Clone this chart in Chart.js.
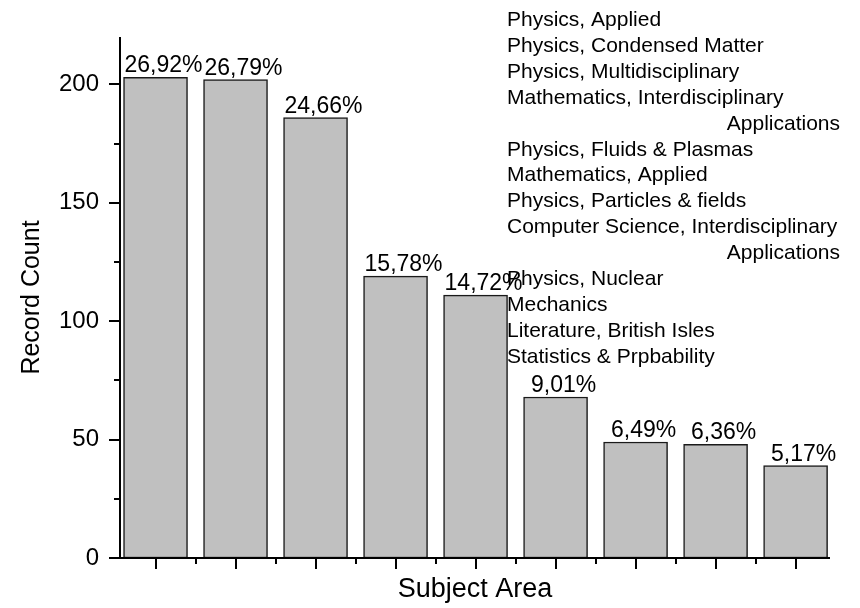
<!DOCTYPE html>
<html>
<head>
<meta charset="utf-8">
<script src="https://cdn.jsdelivr.net/npm/chart.js@4/dist/chart.umd.min.js"></script>
<style>
  html, body { margin: 0; padding: 0; background: #fff; }
  #wrap { width: 860px; height: 608px; }
</style>
</head>
<body>
<div id="wrap"><canvas id="chart" width="860" height="608"></canvas></div>
<script>
// データ（グラフの値）
const positions = [1, 2, 3, 4, 5, 6, 7, 8, 9];
const counts = [203, 202, 186, 119, 111, 68, 49, 48, 39];
const percents = [26.92, 26.79, 24.66, 15.78, 14.72, 9.01, 6.49, 6.36, 5.17];
const yTicks = [0, 50, 100, 150, 200];
const subjects = [
  'Physics, Applied',
  'Physics, Condensed Matter',
  'Physics, Multidisciplinary',
  'Mathematics, Interdisciplinary Applications',
  'Physics, Fluids & Plasmas',
  'Mathematics, Applied',
  'Physics, Particles & fields',
  'Computer Science, Interdisciplinary Applications',
  'Physics, Nuclear',
  'Mechanics',
  'Literature, British Isles',
  'Statistics & Prpbability'
];

const FONT = '"Liberation Sans", Arial, sans-serif';

// 軸線と目盛り（主・副）を描く
const axisPlugin = {
  id: 'axisTicks',
  afterDraw(chart) {
    const ctx = chart.ctx;
    const x = chart.scales.x, y = chart.scales.y;
    const area = chart.chartArea;
    ctx.save();
    ctx.strokeStyle = '#000';
    ctx.lineWidth = 2;
    ctx.beginPath();
    ctx.moveTo(area.left, area.top);
    ctx.lineTo(area.left, area.bottom);
    ctx.lineTo(area.right, area.bottom);
    ctx.stroke();

    ctx.beginPath();
    // y: 主目盛り50ごと、副目盛り25ごと
    for (let v = 0; v <= y.max; v += 25) {
      const py = Math.round(y.getPixelForValue(v));
      const len = v % 50 === 0 ? 11 : 6;
      ctx.moveTo(area.left, py);
      ctx.lineTo(area.left - len, py);
    }
    // x: 棒の中心に主目盛り、間に副目盛り
    positions.forEach(function(p, i) {
      const px = Math.round(x.getPixelForValue(p));
      ctx.moveTo(px, area.bottom);
      ctx.lineTo(px, area.bottom + 11);
      if (i < positions.length - 1) {
        const mx = Math.round(x.getPixelForValue(p + 0.5));
        ctx.moveTo(mx, area.bottom);
        ctx.lineTo(mx, area.bottom + 6);
      }
    });
    ctx.stroke();
    ctx.restore();
  }
};

// 棒の上にパーセント表示
const percentPlugin = {
  id: 'percentLabels',
  afterDatasetsDraw(chart) {
    const ctx = chart.ctx;
    const meta = chart.getDatasetMeta(0);
    ctx.save();
    ctx.font = '23px ' + FONT;
    ctx.fillStyle = '#000';
    ctx.textAlign = 'center';
    ctx.textBaseline = 'alphabetic';
    meta.data.forEach(function(bar, i) {
      const txt = percents[i].toFixed(2).replace('.', ',') + '%';
      ctx.fillText(txt, bar.x + 8, bar.y - 5);
    });
    ctx.restore();
  }
};

// 右上の分野リスト（長い行は折り返して右寄せ）
const subjectPlugin = {
  id: 'subjectList',
  afterDraw(chart) {
    const ctx = chart.ctx;
    const left = 507, right = 840, lineH = 25.9;
    let baseY = 26;
    ctx.save();
    ctx.font = '21px ' + FONT;
    ctx.fillStyle = '#000';
    ctx.textBaseline = 'alphabetic';
    subjects.forEach(function(s) {
      const words = s.split(' ');
      let line = '';
      let first = true;
      const lines = [];
      words.forEach(function(w) {
        const test = line ? line + ' ' + w : w;
        if (line && ctx.measureText(test).width > right - left) {
          lines.push(line);
          line = w;
        } else {
          line = test;
        }
      });
      lines.push(line);
      lines.forEach(function(l) {
        if (first) {
          ctx.textAlign = 'left';
          ctx.fillText(l, left, baseY);
          first = false;
        } else {
          ctx.textAlign = 'right';
          ctx.fillText(l, right, baseY);
        }
        baseY += lineH;
      });
    });
    ctx.restore();
  }
};

const ctx = document.getElementById('chart');
const chart = new Chart(ctx, {
  type: 'bar',
  data: {
    datasets: [{
      data: positions.map(function(p, i) { return { x: p, y: counts[i] }; }),
      backgroundColor: '#c0c0c0',
      borderColor: '#1a1a1a',
      borderWidth: 1.5,
      borderSkipped: false,
      barThickness: 64
    }]
  },
  options: {
    responsive: false,
    animation: false,
    devicePixelRatio: 1,
    layout: { padding: { top: 37, right: 30, left: 0, bottom: 0 } },
    plugins: {
      legend: { display: false },
      tooltip: { enabled: false }
    },
    scales: {
      x: {
        type: 'linear',
        offset: false,
        min: 0.556,
        max: 9.43,
        grid: { display: false, drawTicks: false, offset: false },
        border: { display: false },
        ticks: { display: false },
        title: {
          display: true,
          text: 'Subject Area',
          color: '#000',
          font: { family: FONT, size: 27 },
          padding: { top: 0, bottom: 2 }
        },
        afterFit: function(s) { s.height = 50; }
      },
      y: {
        min: 0,
        max: 220,
        grid: { display: false, drawTicks: false },
        border: { display: false },
        afterBuildTicks: function(s) {
          s.ticks = yTicks.map(function(v) { return { value: v }; });
        },
        ticks: {
          color: '#000',
          padding: 21,
          font: { family: FONT, size: 24 }
        },
        title: {
          display: true,
          text: 'Record Count',
          color: '#000',
          font: { family: FONT, size: 25 },
          padding: { top: 17, bottom: 0 }
        },
        afterFit: function(s) { s.width = 120; }
      }
    }
  },
  plugins: [axisPlugin, percentPlugin, subjectPlugin]
});
</script>
</body>
</html>
